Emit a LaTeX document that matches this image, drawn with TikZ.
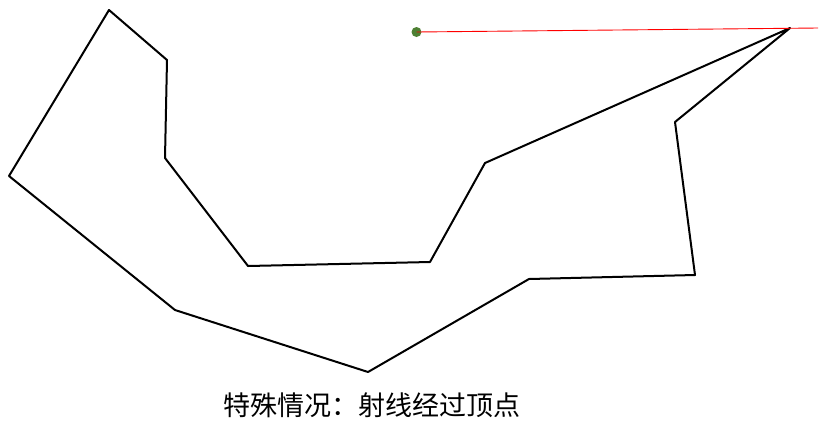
\documentclass[tikz,border=0pt]{standalone}
\usepackage{fontspec}
\newfontfamily\cjk{Noto Sans CJK SC}
\definecolor{dotgreen}{RGB}{77,128,51}

\begin{document}
\begin{tikzpicture}[x=1pt, y=-1pt, line join=round,
  edge/.style={draw=black, line width=2pt},
  ray/.style={draw=red, line width=0.9pt},
  caption/.style={font=\cjk\fontsize{27}{32}\selectfont, inner sep=0pt}
  ]
    \useasboundingbox (0,0) rectangle (829,432);
    % polygon
    \foreach \n/\p in {a/{109,10}, b/{167,60}, c/{165,158}, d/{248,266},
                       e/{430,262}, f/{485,163}, g/{790,28}, h/{675,122},
                       i/{695,275}, j/{529,279}, k/{368,372}, l/{175,310},
                       m/{9,176}}
      \coordinate (\n) at (\p);
    \path[edge] (a) -- (b) -- (c) -- (d) -- (e) -- (f) -- (g) -- (h)
      -- (i) -- (j) -- (k) -- (l) -- (m) -- cycle;
    % ray
    \node (src) [circle, fill=dotgreen, inner sep=0pt, minimum size=10pt] at (416.5,32) {};
    \coordinate (end) at (818,28);
    \draw[ray] (src.center) -- (end);
    \node (cap) [caption] at (371.5,405) {特殊情况：射线经过顶点};
  \end{tikzpicture}
\end{document}
